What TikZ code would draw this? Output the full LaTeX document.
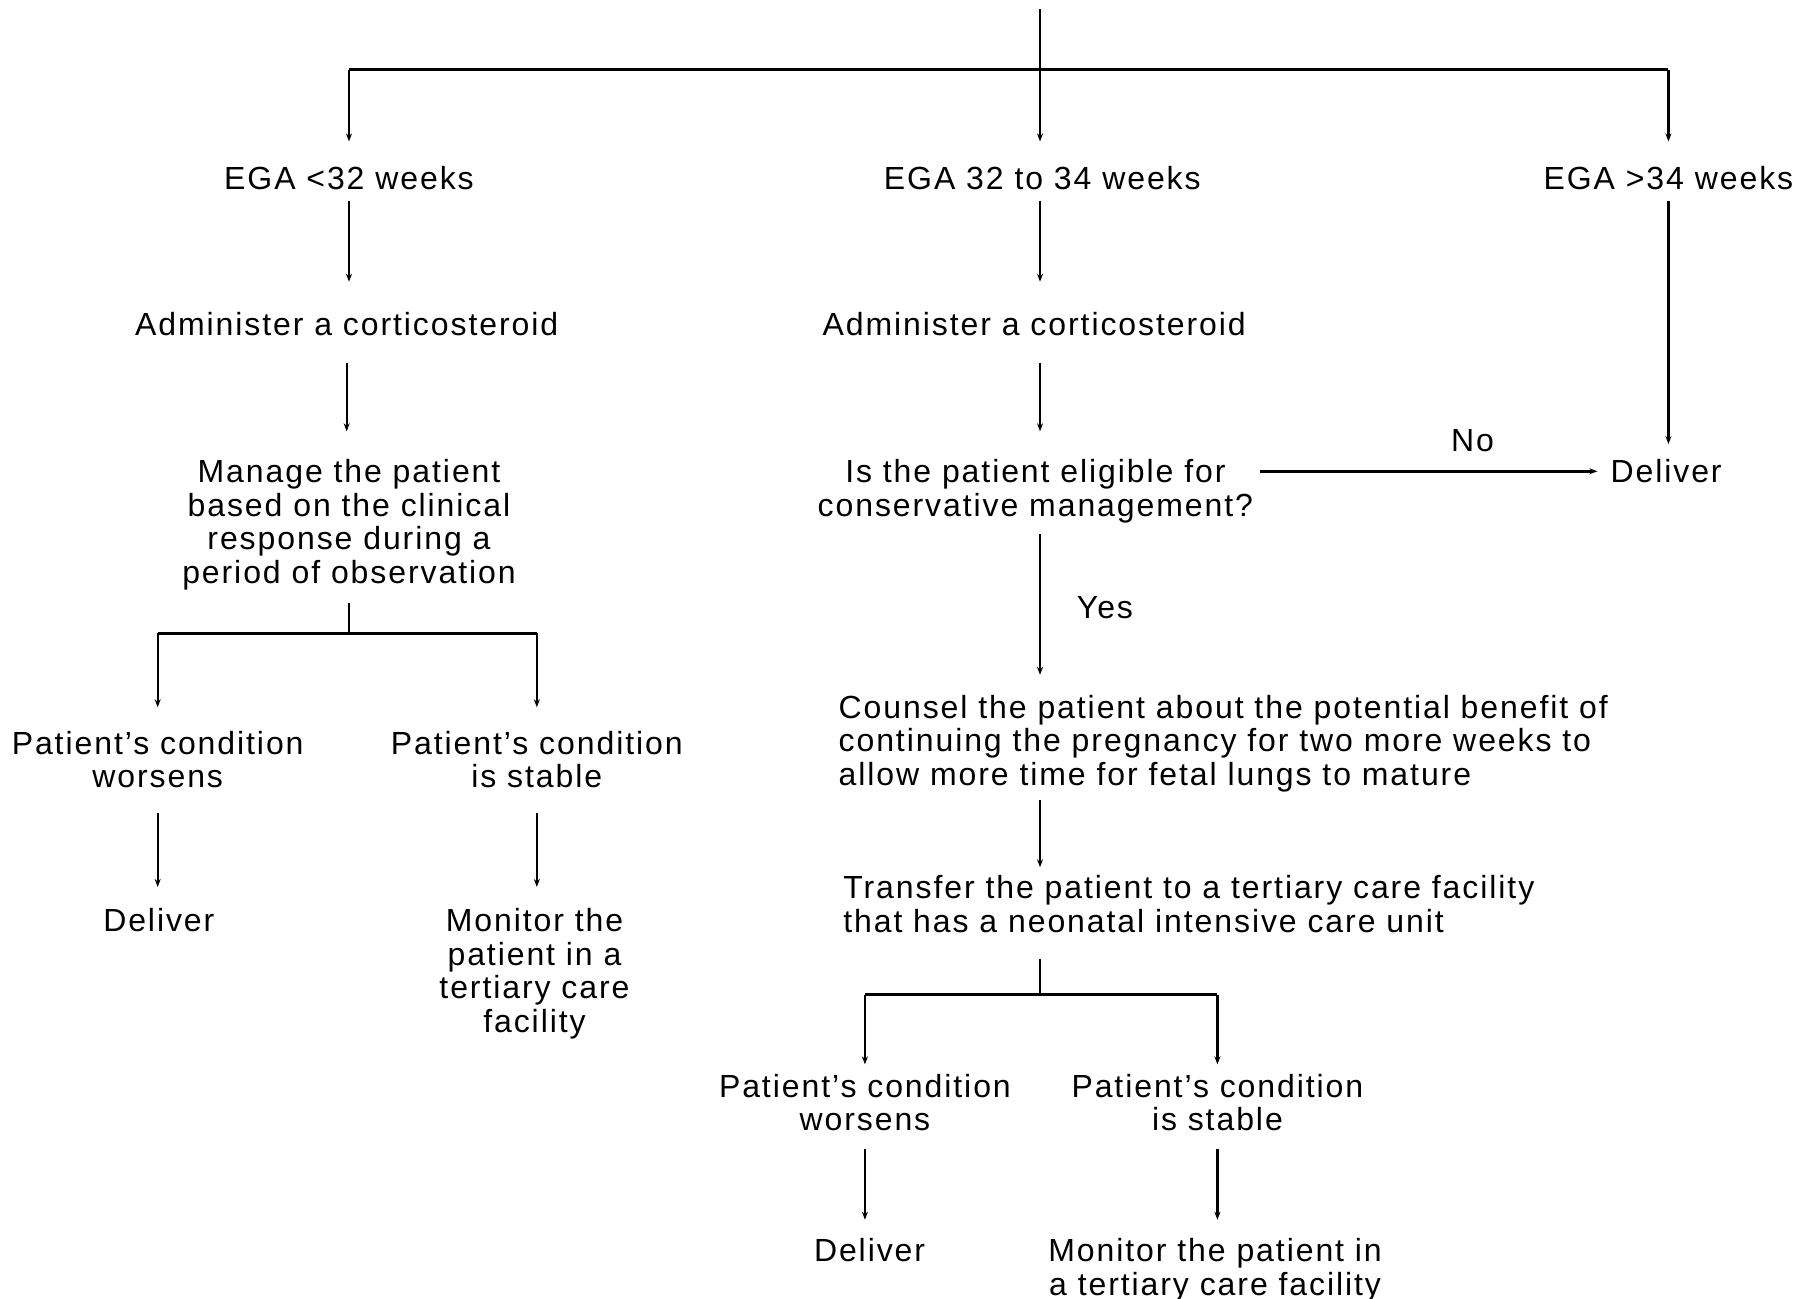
\documentclass[tikz,border=0pt]{standalone}
\usepackage{fontspec}
\setmainfont[LetterSpace=6]{Liberation Sans}
\usetikzlibrary{arrows.meta}
\newdimen\pxu
\pxu=0.5797pt
\begin{document}
\begin{tikzpicture}[x=0.5797pt,y=-0.5797pt,
  txt/.style={inner sep=0pt, align=center, anchor=north, font=\fontsize{16}{16.8}\selectfont},
  ltxt/.style={inner sep=0pt, align=left, anchor=north west, font=\fontsize{16}{16.8}\selectfont},
  ln/.style={line width=1.1pt},
  hln/.style={line width=1.5pt},
  arr/.style={ln, -{Stealth[length=4pt,width=3pt]}}]
\useasboundingbox[fill=white] (0,0) rectangle (1568,1120);

% nodes (anchor north = top of first line)
\node[txt] (ega1) at (301,143) {EGA <32 weeks};
\node[txt] (ega2) at (899,143) {EGA 32 to 34 weeks};
\node[txt] (ega3) at (1439,143) {EGA >34 weeks};
\node[txt] (adm1) at (299,269) {Administer a corticosteroid};
\node[txt] (adm2) at (892,269) {Administer a corticosteroid};
\node[txt] (man) at (301,396) {Manage the patient\\based on the clinical\\response during a\\period of observation};
\node[txt] (elig) at (893,396) {Is the patient eligible for\\conservative management?};
\node[txt] (del0) at (1437,396) {Deliver};
\node[txt] (no) at (1270,370) {No};
\node[txt] (yes) at (953,514) {Yes};
\node[txt] (wor1) at (136,630) {Patient's condition\\worsens};
\node[txt] (sta1) at (463,630) {Patient's condition\\is stable};
\node[txt] (del1) at (137,783) {Deliver};
\node[txt] (mon1) at (461,783) {Monitor the\\patient in a\\tertiary care\\facility};
\node[ltxt] (coun) at (723,599) {Counsel the patient about the potential benefit of\\continuing the pregnancy for two more weeks to\\allow more time for fetal lungs to mature};
\node[ltxt] (tran) at (727,755) {Transfer the patient to a tertiary care facility\\that has a neonatal intensive care unit};
\node[txt] (wor2) at (746,926) {Patient's condition\\worsens};
\node[txt] (sta2) at (1050,926) {Patient's condition\\is stable};
\node[txt] (del2) at (750,1068) {Deliver};
\node[txt] (mon2) at (1048,1068) {Monitor the patient in\\a tertiary care facility};

% junctions
\coordinate (top) at (897,8);
\coordinate (j0) at (897,60);
\coordinate (j1) at (300,546);
\coordinate (j2) at (897,858);

% top distribution
\draw[ln] (top) -- (j0);
\draw[hln] (ega1.north |- j0) -- (ega3.north |- j0);
\draw[arr, shorten >=21\pxu] (ega1.north |- j0) -- (ega1.north);
\draw[arr, shorten >=21\pxu] (j0) -- (j0 |- ega2.north);
\draw[arr, shorten >=21\pxu] (ega3.north |- j0) -- (ega3.north);

% left column
\draw[arr, shorten <=9\pxu, shorten >=26\pxu] (ega1.south) -- (ega1.south |- adm1.north);
\draw[arr, shorten <=23\pxu, shorten >=24\pxu] (adm1.south) -- (adm1.south |- man.north);
\draw[ln, shorten <=11\pxu] (man.south) -- (man.south |- j1);
\draw[hln] (wor1.north |- j1) -- (sta1.north |- j1);
\draw[arr, shorten >=20\pxu] (wor1.north |- j1) -- (wor1.north);
\draw[arr, shorten >=20\pxu] (sta1.north |- j1) -- (sta1.north);
\draw[arr, shorten <=21\pxu, shorten >=18\pxu] (wor1.south) -- (wor1.south |- del1.north);
\draw[arr, shorten <=21\pxu, shorten >=18\pxu] (sta1.south) -- (sta1.south |- mon1.north);

% middle column
\draw[arr, shorten <=9\pxu, shorten >=26\pxu] (j0 |- ega2.south) -- (j0 |- adm2.north);
\draw[arr, shorten <=23\pxu, shorten >=24\pxu] (j0 |- adm2.south) -- (j0 |- elig.north);
\draw[arr, shorten <=9\pxu, shorten >=17\pxu] (j0 |- elig.south) -- (j0 |- coun.north);
\draw[arr, shorten <=7\pxu, shorten >=7\pxu] (j0 |- coun.south) -- (j0 |- tran.north);
\draw[ln, shorten <=22\pxu] (j0 |- tran.south) -- (j2);
\draw[hln] (wor2.north |- j2) -- (sta2.north |- j2);
\draw[arr, shorten >=8\pxu] (wor2.north |- j2) -- (wor2.north);
\draw[arr, shorten >=8\pxu] (sta2.north |- j2) -- (sta2.north);
\draw[arr, shorten <=15\pxu, shorten >=16\pxu] (wor2.south) -- (wor2.south |- del2.north);
\draw[arr, shorten <=15\pxu, shorten >=16\pxu] (sta2.south) -- (sta2.south |- mon2.north);

% right column
\draw[arr, shorten <=9\pxu, shorten >=13\pxu] (ega3.south) -- (ega3.south |- del0.north);
\draw[arr, hln, shorten <=6\pxu, shorten >=11\pxu] (elig.east |- del0.west) -- (del0.west);
\end{tikzpicture}
\end{document}
